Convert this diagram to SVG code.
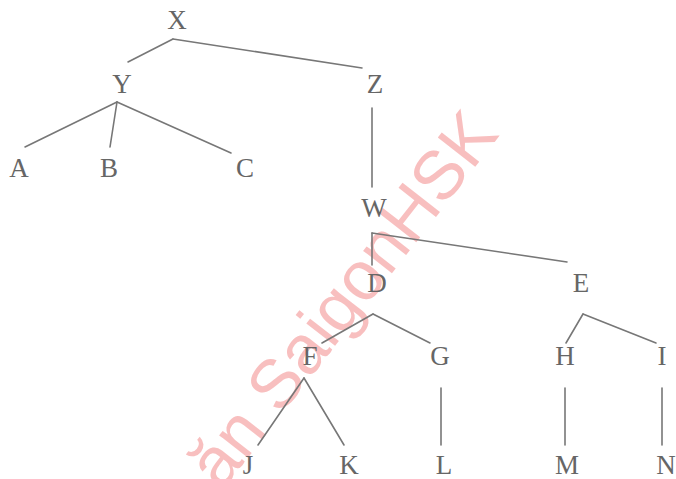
<svg xmlns="http://www.w3.org/2000/svg" width="676" height="479" viewBox="0 0 676 479">
<style>
.n text{font-family:"Liberation Serif","Times New Roman",serif;font-size:27px;fill:#666666;text-anchor:middle}
.e line{stroke:#777777;stroke-width:1.6;stroke-linecap:round}
.wm{font-family:"Liberation Sans",Arial,sans-serif;font-size:69px;fill:#f6a5a5;opacity:0.7}
</style>
<rect width="676" height="479" fill="#ffffff"/>
<text class="wm" transform="translate(500,135) rotate(-52)" text-anchor="end">ăn SaigonHSK</text>
<g class="e" id="connectors">
<line x1="173" y1="39" x2="128" y2="62"/>
<line x1="173" y1="39" x2="362" y2="68"/>
<line x1="117" y1="102" x2="25" y2="147"/>
<line x1="117" y1="102" x2="110" y2="147"/>
<line x1="117" y1="102" x2="231" y2="153"/>
<line x1="372" y1="108" x2="372" y2="187"/>
<line x1="372" y1="233" x2="372" y2="265"/>
<line x1="372" y1="233" x2="567" y2="262"/>
<line x1="373" y1="314" x2="322" y2="343"/>
<line x1="373" y1="314" x2="430" y2="343"/>
<line x1="583" y1="314" x2="566" y2="343"/>
<line x1="583" y1="314" x2="656" y2="343"/>
<line x1="304" y1="378" x2="258" y2="445"/>
<line x1="304" y1="378" x2="344" y2="445"/>
<line x1="441" y1="388" x2="441" y2="445"/>
<line x1="565" y1="388" x2="565" y2="445"/>
<line x1="662" y1="388" x2="662" y2="445"/>
</g>
<g class="n" id="X"><text x="177" y="29">X</text></g>
<g class="n" id="Y"><text x="122" y="93">Y</text></g>
<g class="n" id="Z"><text x="375" y="93">Z</text></g>
<g class="n" id="A"><text x="19" y="177">A</text></g>
<g class="n" id="B"><text x="109" y="177">B</text></g>
<g class="n" id="C"><text x="245" y="177">C</text></g>
<g class="n" id="W"><text x="374" y="217">W</text></g>
<g class="n" id="D"><text x="377" y="292">D</text></g>
<g class="n" id="E"><text x="581" y="292">E</text></g>
<g class="n" id="F"><text x="310" y="365">F</text></g>
<g class="n" id="G"><text x="440" y="365">G</text></g>
<g class="n" id="H"><text x="565" y="365">H</text></g>
<g class="n" id="I"><text x="662" y="365">I</text></g>
<g class="n" id="J"><text x="248" y="474">J</text></g>
<g class="n" id="K"><text x="349" y="474">K</text></g>
<g class="n" id="L"><text x="444" y="474">L</text></g>
<g class="n" id="M"><text x="567" y="474">M</text></g>
<g class="n" id="N"><text x="666" y="474">N</text></g>
</svg>
